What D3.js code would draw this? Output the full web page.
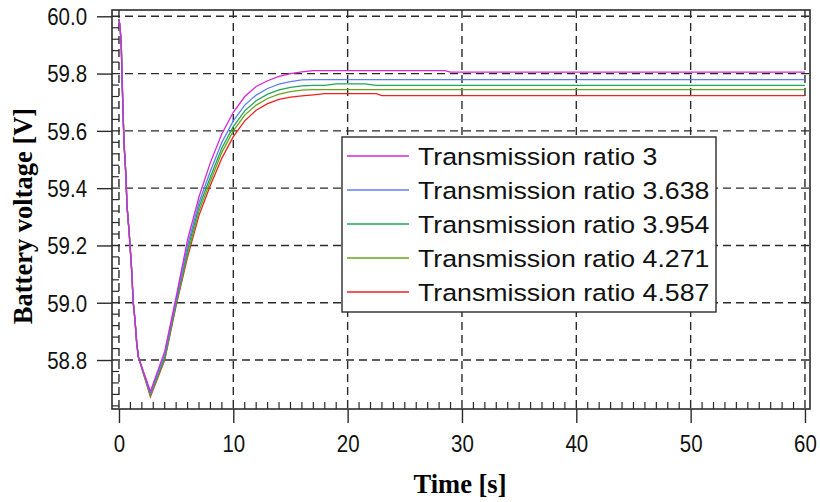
<!DOCTYPE html>
<html>
<head>
<meta charset="utf-8">
<script src="https://cdn.jsdelivr.net/npm/d3@7"></script>
<style>
  html, body { margin: 0; padding: 0; background: #fff; }
  svg { display: block; }
</style>
</head>
<body>
<svg id="chart" width="820" height="502"></svg>
<script>
// ---------- data ----------
const seriesNames = ["Transmission ratio 3", "Transmission ratio 3.638", "Transmission ratio 3.954", "Transmission ratio 4.271", "Transmission ratio 4.587"];
const seriesColors = ["#d826d8", "#5b80ee", "#1fa65a", "#6aa51c", "#ee2020"];

// common initial drop (all five curves coincide)
const descentTime = [0, 0.1, 0.2, 0.25, 0.35, 0.45, 0.6, 0.7, 0.9, 1.1, 1.25, 1.4, 1.55, 1.7];
const descentVolt = [59.99, 59.96, 59.90, 59.82, 59.67, 59.55, 59.45, 59.34, 59.24, 59.12, 59.00, 58.94, 58.86, 58.81];

// recovery part
const riseTime = [2.75, 4, 5, 6, 7, 8, 9, 10, 11, 12, 13, 14, 15, 16, 17, 18, 19, 20, 21.5, 22.5, 23, 28.5, 29, 60];
const ratio3     = [58.69, 58.83, 59.02, 59.22, 59.37, 59.49, 59.59, 59.665, 59.72, 59.755, 59.775, 59.79, 59.80, 59.806, 59.81, 59.81, 59.81, 59.81, 59.81, 59.81, 59.81, 59.81, 59.805, 59.805];
const ratio3638  = [58.685, 58.82, 59.01, 59.20, 59.35, 59.46, 59.56, 59.635, 59.69, 59.725, 59.748, 59.763, 59.772, 59.778, 59.779, 59.779, 59.779, 59.779, 59.779, 59.779, 59.779, 59.779, 59.779, 59.779];
const ratio3954  = [58.68, 58.81, 59.00, 59.185, 59.335, 59.44, 59.54, 59.615, 59.67, 59.705, 59.728, 59.743, 59.752, 59.757, 59.759, 59.759, 59.764, 59.764, 59.764, 59.759, 59.759, 59.759, 59.759, 59.759];
const ratio4271  = [58.676, 58.805, 58.995, 59.17, 59.32, 59.425, 59.525, 59.60, 59.655, 59.69, 59.713, 59.728, 59.737, 59.742, 59.744, 59.744, 59.744, 59.744, 59.744, 59.744, 59.744, 59.744, 59.744, 59.744];
const ratio4587  = [58.672, 58.80, 58.99, 59.16, 59.305, 59.41, 59.505, 59.58, 59.635, 59.672, 59.695, 59.71, 59.718, 59.722, 59.726, 59.73, 59.73, 59.73, 59.73, 59.73, 59.723, 59.723, 59.723, 59.723];

const xTicks = [0, 10, 20, 30, 40, 50, 60];
const yTicks = [58.8, 59.0, 59.2, 59.4, 59.6, 59.8, 60.0];
const xTitle = "Time [s]";
const yTitle = "Battery voltage [V]";

// ---------- build ----------
const riseSeries = [ratio3, ratio3638, ratio3954, ratio4271, ratio4587];
const series = seriesNames.map((name, i) => ({
  name, color: seriesColors[i],
  points: descentTime.map((t, j) => [t, descentVolt[j]])
          .concat(riseTime.map((t, j) => [t, riseSeries[i][j]]))
}));

const svg = d3.select("#chart");
const L = 112, R = 810, T = 10, B = 409;
const x = d3.scaleLinear().domain([-0.61, 60.44]).range([L, R]);
const y = d3.scaleLinear().domain([58.629, 60.022]).range([B, T]);

const ink = "#2b2b2b";

// grid
const grid = svg.append("g");
grid.selectAll("line.gx").data(xTicks).join("line")
  .attr("x1", d => x(d)).attr("x2", d => x(d)).attr("y1", T).attr("y2", B)
  .attr("stroke", ink).attr("stroke-width", 1.4).attr("stroke-dasharray", "8,5");
grid.selectAll("line.gy").data(yTicks).join("line")
  .attr("y1", d => y(d)).attr("y2", d => y(d)).attr("x1", L).attr("x2", R)
  .attr("stroke", ink).attr("stroke-width", 1.4).attr("stroke-dasharray", "8,5");

// minor ticks (inside)
const xMinor = d3.range(0, 61, 1).filter(v => v % 10 !== 0);
svg.append("g").selectAll("line").data(xMinor).join("line")
  .attr("x1", d => x(d)).attr("x2", d => x(d)).attr("y1", B).attr("y2", B - 7)
  .attr("stroke", ink).attr("stroke-width", 1.2);
const yMinor = d3.range(0, 35).map(i => 58.64 + i * 0.04).filter(v => v <= 60.01 && Math.abs(Math.round(v * 5) - v * 5) > 0.01);
svg.append("g").selectAll("line").data(yMinor).join("line")
  .attr("y1", d => y(d)).attr("y2", d => y(d)).attr("x1", L).attr("x2", L + 7)
  .attr("stroke", ink).attr("stroke-width", 1.2);

// series
const line = d3.line().x(d => x(d[0])).y(d => y(d[1]));
svg.append("g").selectAll("path").data(series.slice().reverse()).join("path")
  .attr("d", d => line(d.points))
  .attr("fill", "none").attr("stroke", d => d.color).attr("stroke-width", 1.3);

// frame
svg.append("rect").attr("x", L).attr("y", T).attr("width", R - L).attr("height", B - T)
  .attr("fill", "none").attr("stroke", ink).attr("stroke-width", 1.6);

// axes (outside major ticks)
const xAxis = d3.axisBottom(x).tickValues(xTicks).tickFormat(d3.format("d")).tickSize(14).tickPadding(12);
const gx = svg.append("g").attr("transform", `translate(0,${B})`).call(xAxis);
const yAxis = d3.axisLeft(y).tickValues(yTicks).tickFormat(d3.format(".1f")).tickSize(15).tickPadding(10);
const gy = svg.append("g").attr("transform", `translate(${L},0)`).call(yAxis);
[gx, gy].forEach(g => {
  g.select(".domain").remove();
  g.selectAll(".tick line").attr("stroke", ink).attr("stroke-width", 1.4);
  g.selectAll(".tick text").attr("font-family", "Liberation Sans, Arial, sans-serif")
    .attr("font-size", 23).attr("fill", "#111");
});
gx.selectAll(".tick text").attr("dy", "0.72em").attr("y", 26);
gy.selectAll(".tick text").attr("dy", "0.36em");
function squeeze(sel, f) {
  sel.each(function () {
    const w = this.getComputedTextLength();
    d3.select(this).attr("textLength", w * f).attr("lengthAdjust", "spacingAndGlyphs");
  });
}
squeeze(gx.selectAll(".tick text"), 0.89);
squeeze(gy.selectAll(".tick text"), 0.89);

// titles
svg.append("text").attr("x", 460).attr("y", 493).attr("text-anchor", "middle")
  .attr("font-family", "Liberation Serif, Times New Roman, serif").attr("font-weight", "bold")
  .attr("font-size", 26.5).attr("fill", "#000").text(xTitle);
svg.append("text").attr("transform", "translate(32,216) rotate(-90)").attr("text-anchor", "middle")
  .attr("font-family", "Liberation Serif, Times New Roman, serif").attr("font-weight", "bold")
  .attr("font-size", 26.5).attr("fill", "#000").text(yTitle);

// legend
const lg = svg.append("g");
lg.append("rect").attr("x", 342).attr("y", 137).attr("width", 374).attr("height", 175)
  .attr("fill", "#fff").attr("stroke", ink).attr("stroke-width", 1.4);
const rows = lg.selectAll("g.row").data(series).join("g")
  .attr("transform", (d, i) => `translate(0,${156 + i * 34})`);
rows.append("line").attr("x1", 347).attr("x2", 409).attr("y1", 0).attr("y2", 0)
  .attr("stroke", d => d.color).attr("stroke-width", 1.4);
const lt = rows.append("text").attr("x", 418).attr("y", 0).attr("dy", "0.36em")
  .attr("font-family", "Liberation Sans, Arial, sans-serif").attr("font-size", 24.5)
  .attr("fill", "#111").text(d => d.name);
squeeze(lt, 1.09);
</script>
</body>
</html>
